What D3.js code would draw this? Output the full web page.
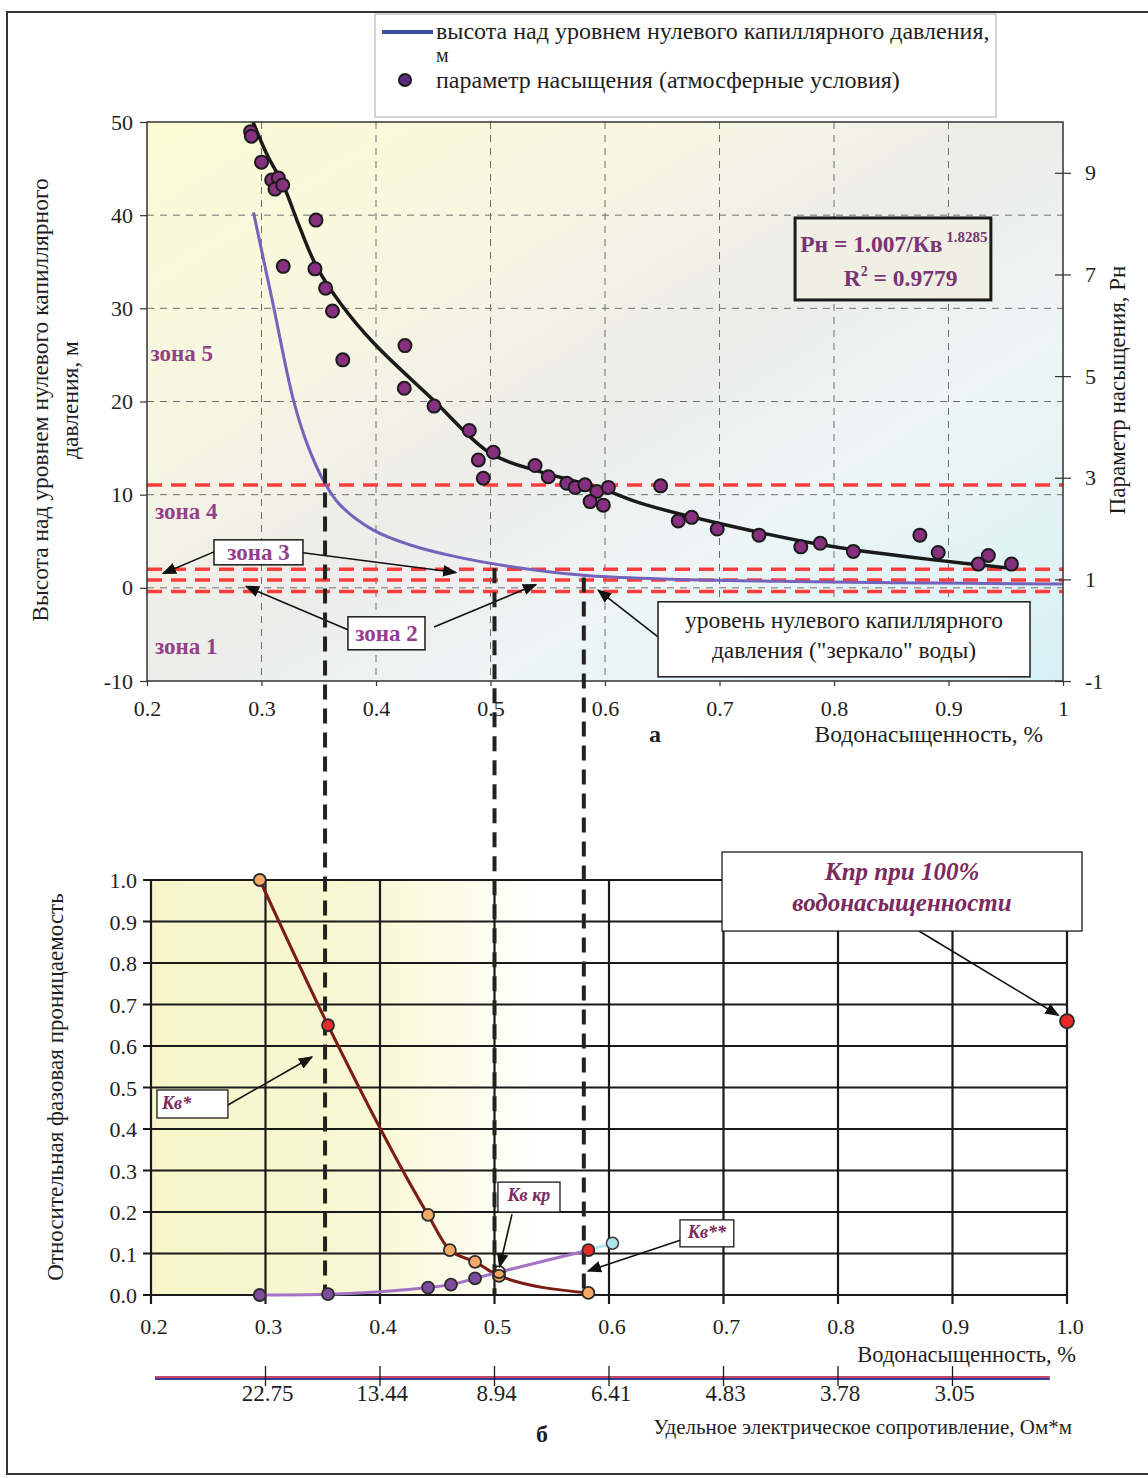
<!DOCTYPE html>
<html><head><meta charset="utf-8">
<script src="https://cdn.jsdelivr.net/npm/d3@7"></script>
<style>
body{margin:0;background:#fff}
svg{display:block}
text{font-family:"Liberation Serif","Times New Roman",serif;fill:#1e1e1e}
</style>
</head><body>
<svg id="c" width="1148" height="1478"></svg>
<script>
// ---------------- DATA ----------------
// top chart (a)
const topXTicks = [0.2,0.3,0.4,0.5,0.6,0.7,0.8,0.9,1.0];
const topXTickLabels = ["0.2","0.3","0.4","0.5","0.6","0.7","0.8","0.9","1"];
const heightTicks = [-10,0,10,20,30,40,50];
const heightTickLabels = ["-10","0","10","20","30","40","50"];
const pnTicks = [-1,1,3,5,7,9];
const pnTickLabels = ["-1","1","3","5","7","9"];
// height above zero capillary pressure level, m  [Sw, H]
const heightCurve = [[0.293,40.3],[0.31,30.5],[0.3278,20.2],[0.34,15.4],[0.3555,11.2],[0.3686,8.9],[0.3977,6.2],
  [0.43,4.6],[0.4675,3.4],[0.514,2.35],[0.581,1.35],[0.65,0.95],[0.75,0.7],[0.85,0.55],[1.0,0.4]];
// saturation parameter trend line  [Sw, Pn]
const pnTrend = [[0.2926,10.0],[0.305,9.35],[0.319,8.76],[0.333,7.95],[0.348,7.16],[0.37,6.4],[0.398,5.65],
  [0.45,4.53],[0.50,3.48],[0.543,3.12],[0.581,2.89],[0.60,2.76],[0.631,2.50],[0.70,2.10],[0.80,1.64],[0.90,1.35],[0.954,1.22]];
// saturation parameter (atmospheric conditions)  [Sw, Pn]
const pnPoints = [[0.2905,9.81],[0.2912,9.72],[0.300,9.21],[0.3089,8.86],[0.3147,8.90],[0.3118,8.68],[0.3185,8.76],
  [0.3476,8.07],[0.319,7.16],[0.3467,7.11],[0.356,6.73],[0.362,6.28],[0.371,5.32],[0.4253,5.60],[0.4247,4.76],
  [0.4507,4.41],[0.4815,3.93],[0.4894,3.35],[0.5025,3.50],[0.4937,2.99],[0.5389,3.24],[0.5505,3.02],[0.5666,2.89],
  [0.574,2.81],[0.5825,2.86],[0.5928,2.73],[0.587,2.53],[0.5985,2.46],[0.6029,2.81],[0.6486,2.84],[0.664,2.15],
  [0.6757,2.22],[0.698,1.99],[0.7345,1.87],[0.771,1.64],[0.788,1.71],[0.8169,1.55],[0.875,1.87],[0.891,1.53],
  [0.926,1.30],[0.9348,1.47],[0.955,1.30]];
// zone boundaries (height, m)
const zoneLevels = [11.05, 2.0, 0.85, -0.4];
// thick dashed guide lines [Sw, start height]
const guideLines = [[0.3555,12.8],[0.5035,2.1],[0.5815,1.1]];

// bottom chart (б)
const relXTicks = [0.2,0.3,0.4,0.5,0.6,0.7,0.8,0.9,1.0];
const relXTickLabels = ["0.2","0.3","0.4","0.5","0.6","0.7","0.8","0.9","1.0"];
const relYTicks = [0,0.1,0.2,0.3,0.4,0.5,0.6,0.7,0.8,0.9,1.0];
const relYTickLabels = ["0.0","0.1","0.2","0.3","0.4","0.5","0.6","0.7","0.8","0.9","1.0"];
const krDecreasing = [[0.295,1.0],[0.3546,0.65],[0.442,0.193],[0.461,0.108],[0.483,0.08],[0.504,0.046],[0.582,0.005]];
const krIncreasing = [[0.295,0.0],[0.3546,0.002],[0.442,0.018],[0.462,0.025],[0.483,0.04],[0.504,0.055],[0.582,0.108]];
const krExtra = [[0.582,0.108],[0.603,0.125]];
const krFull = [[1.0,0.66]];
const resistTickSw = [0.3,0.4,0.5,0.6,0.7,0.8,0.9];
const resistLabels = ["22.75","13.44","8.94","6.41","4.83","3.78","3.05"];

// ---------------- DRAW ----------------
const svg = d3.select("#c");
const defs = svg.append("defs");

// page frame
svg.append("rect").attr("x",7).attr("y",12).attr("width",1170).attr("height",1462)
  .attr("fill","none").attr("stroke","#333").attr("stroke-width",2);

// arrow marker
defs.append("marker").attr("id","arr").attr("viewBox","0 0 10 10").attr("refX",9).attr("refY",5)
  .attr("markerWidth",9).attr("markerHeight",9).attr("orient","auto-start-reverse")
  .append("path").attr("d","M0,1 L10,5 L0,9 z").attr("fill","#111");

// ===== TOP CHART =====
const x = d3.scaleLinear().domain([0.2,1]).range([147,1063]);
const yH = d3.scaleLinear().domain([-10,50]).range([681,122]);
const yP = d3.scaleLinear().domain([-1,10]).range([681,122]);

const bg = defs.append("linearGradient").attr("id","bgTop").attr("x1","0").attr("y1","0").attr("x2","1").attr("y2","1");
[["0%","#fbfbd4"],["28%","#f7f7e2"],["50%","#ececea"],["68%","#eef5f5"],["100%","#d6f1f4"]]
  .forEach(s=>bg.append("stop").attr("offset",s[0]).attr("stop-color",s[1]));
defs.append("clipPath").attr("id","clipTop").append("rect")
  .attr("x",x(0.2)).attr("y",yH(50)).attr("width",x(1)-x(0.2)).attr("height",yH(-10)-yH(50));

svg.append("rect").attr("x",x(0.2)).attr("y",yH(50)).attr("width",x(1)-x(0.2)).attr("height",yH(-10)-yH(50))
  .attr("fill","url(#bgTop)");

// grid
const gTop = svg.append("g");
gTop.selectAll(".vg").data(topXTicks.slice(1,-1)).join("line")
  .attr("x1",d=>x(d)).attr("x2",d=>x(d)).attr("y1",yH(50)).attr("y2",yH(-10))
  .attr("stroke","#6f6f6f").attr("stroke-width",1).attr("stroke-dasharray","7,6");
gTop.selectAll(".hg").data(heightTicks.slice(1,-1)).join("line")
  .attr("x1",x(0.2)).attr("x2",x(1)).attr("y1",d=>yH(d)).attr("y2",d=>yH(d))
  .attr("stroke","#6f6f6f").attr("stroke-width",1).attr("stroke-dasharray","7,6");

const plotTop = svg.append("g").attr("clip-path","url(#clipTop)");

// zone dashed lines
plotTop.selectAll(".zl").data(zoneLevels).join("line")
  .attr("x1",x(0.2)).attr("x2",x(1)).attr("y1",d=>yH(d)).attr("y2",d=>yH(d))
  .attr("stroke","#ff3d3d").attr("stroke-width",3.5).attr("stroke-dasharray","15,9");

// height curve
plotTop.append("path").datum(heightCurve)
  .attr("d",d3.line().x(d=>x(d[0])).y(d=>yH(d[1])).curve(d3.curveCatmullRom.alpha(0.5)))
  .attr("fill","none").attr("stroke","#7462bb").attr("stroke-width",3);

// trend curve
plotTop.append("path").datum(pnTrend)
  .attr("d",d3.line().x(d=>x(d[0])).y(d=>yP(d[1])).curve(d3.curveCatmullRom.alpha(0.5)))
  .attr("fill","none").attr("stroke","#1a1a1a").attr("stroke-width",3.5);

// points
plotTop.selectAll(".pt").data(pnPoints).join("circle")
  .attr("cx",d=>x(d[0])).attr("cy",d=>yP(d[1])).attr("r",6.5)
  .attr("fill","#86307f").attr("stroke","#1a1a1a").attr("stroke-width",2);

// plot border
svg.append("rect").attr("x",x(0.2)).attr("y",yH(50)).attr("width",x(1)-x(0.2)).attr("height",yH(-10)-yH(50))
  .attr("fill","none").attr("stroke","#333").attr("stroke-width",1.5);

// axes
const axL = svg.append("g").attr("transform",`translate(${x(0.2)},0)`)
  .call(d3.axisLeft(yH).tickValues(heightTicks).tickSize(7).tickFormat((d,i)=>heightTickLabels[i]));
const axR = svg.append("g").attr("transform",`translate(${x(1)},0)`)
  .call(d3.axisRight(yP).tickValues(pnTicks).tickSize(8).tickPadding(14).tickFormat((d,i)=>pnTickLabels[i]));
axR.selectAll(".tick line").attr("x1",-8);
const axB = svg.append("g").attr("transform",`translate(0,${yH(-10)})`)
  .call(d3.axisBottom(x).tickValues(topXTicks).tickSize(5).tickPadding(14).tickFormat((d,i)=>topXTickLabels[i]));
[axL,axR,axB].forEach(a=>{
  a.select(".domain").remove();
  a.selectAll(".tick line").attr("stroke","#333").attr("stroke-width",1.2);
  a.selectAll("text").style("font-size","22px").style("font-family","Liberation Serif").attr("fill","#1e1e1e");
});
axL.selectAll("text").attr("x",-14);

// axis titles
svg.append("text").attr("transform","translate(48,400) rotate(-90)").attr("text-anchor","middle")
  .style("font-size","23.5px").text("Высота над уровнем нулевого капиллярного");
svg.append("text").attr("transform","translate(78,400) rotate(-90)").attr("text-anchor","middle")
  .style("font-size","23.5px").text("давления, м");
svg.append("text").attr("transform","translate(1125,390) rotate(-90)").attr("text-anchor","middle")
  .style("font-size","23px").text("Параметр насыщения, Рн");
svg.append("text").attr("x",1043).attr("y",742).attr("text-anchor","end").style("font-size","23.5px")
  .text("Водонасыщенность, %");
svg.append("text").attr("x",x(0.6)+50).attr("y",742).attr("text-anchor","middle").style("font-size","24px")
  .style("font-weight","bold").text("а");

// zone labels
const zoneColor = "#93408b";
[["зона 5",0.203,24.4],["зона 4",0.207,7.4],["зона 1",0.207,-7.1]].forEach(z=>{
  svg.append("text").attr("x",x(z[1])).attr("y",yH(z[2])).style("font-size","23px").style("font-weight","bold")
    .style("fill",zoneColor).text(z[0]);
});
function box(x0,y0,x1,y1,sw,fill){
  svg.append("rect").attr("x",x0).attr("y",y0).attr("width",x1-x0).attr("height",y1-y0)
    .attr("fill",fill||"#fff").attr("stroke","#1a1a1a").attr("stroke-width",sw||1.5);
}
function arrow(x0,y0,x1,y1){
  svg.append("line").attr("x1",x0).attr("y1",y0).attr("x2",x1).attr("y2",y1)
    .attr("stroke","#111").attr("stroke-width",1.6).attr("marker-end","url(#arr)");
}
// зона 3
arrow(x(0.2585),yH(3.86),x(0.214),yH(1.55));
arrow(x(0.3362),yH(3.76),x(0.4699),yH(1.65));
box(x(0.2585),yH(5.15),x(0.3362),yH(2.47));
svg.append("text").attr("x",(x(0.2585)+x(0.3362))/2).attr("y",yH(2.95)).attr("text-anchor","middle")
  .style("font-size","23px").style("font-weight","bold").style("fill",zoneColor).text("зона 3");
// зона 2
arrow(x(0.3755),yH(-4.5),x(0.2865),yH(0.15));
arrow(x(0.4507),yH(-4.2),x(0.5397),yH(0.35));
box(x(0.3755),yH(-3.11),x(0.4428),yH(-6.65));
svg.append("text").attr("x",(x(0.3755)+x(0.4428))/2).attr("y",yH(-5.7)).attr("text-anchor","middle")
  .style("font-size","23px").style("font-weight","bold").style("fill",zoneColor).text("зона 2");
// zero level box
arrow(x(0.6463),yH(-5.26),x(0.594),yH(-0.25));
box(x(0.6463),yH(-1.5),x(0.9712),yH(-9.55));
svg.append("text").attr("x",(x(0.6463)+x(0.9712))/2).attr("y",yH(-4.3)).attr("text-anchor","middle")
  .style("font-size","23.5px").text("уровень нулевого капиллярного");
svg.append("text").attr("x",(x(0.6463)+x(0.9712))/2).attr("y",yH(-7.5)).attr("text-anchor","middle")
  .style("font-size","23.5px").text("давления (\"зеркало\" воды)");

// equation box
box(x(0.766),yH(39.7),x(0.937),yH(30.9),3,"#efefe4");
const eqColor = "#7a3476";
const eq1 = svg.append("text").attr("x",x(0.7705)).attr("y",yH(36.0)).style("font-size","23.5px").style("font-weight","bold").style("fill",eqColor);
eq1.append("tspan").text("Pн = 1.007/Кв");
eq1.append("tspan").attr("dy",-10).style("font-size","15px").text(" 1.8285");
const eq2 = svg.append("text").attr("x",x(0.8085)).attr("y",yH(32.4)).style("font-size","23.5px").style("font-weight","bold").style("fill",eqColor);
eq2.append("tspan").text("R");
eq2.append("tspan").attr("dy",-10).style("font-size","14px").text("2");
eq2.append("tspan").attr("dy",10).text(" = 0.9779");

// legend
svg.append("rect").attr("x",375).attr("y",14).attr("width",621).attr("height",103)
  .attr("fill","#fff").attr("stroke","#aaa").attr("stroke-width",1);
svg.append("line").attr("x1",382).attr("x2",433).attr("y1",32).attr("y2",32).attr("stroke","#3d4fa6").attr("stroke-width",4);
svg.append("text").attr("x",436).attr("y",39).style("font-size","24px").text("высота над уровнем нулевого капиллярного давления,");
svg.append("text").attr("x",436).attr("y",62).style("font-size","20px").text("м");
svg.append("circle").attr("cx",405).attr("cy",80).attr("r",6).attr("fill","#5a2a80").attr("stroke","#1a1a1a").attr("stroke-width",2);
svg.append("text").attr("x",436).attr("y",88).style("font-size","24px").text("параметр насыщения (атмосферные условия)");

// ===== BOTTOM CHART =====
const xB = d3.scaleLinear().domain([0.2,1]).range([151,1067]);
const yB = d3.scaleLinear().domain([0,1]).range([1295,880]);

const bgB = defs.append("linearGradient").attr("id","bgBot").attr("x1","0").attr("y1","0").attr("x2","1").attr("y2","0");
[["0%","#f7f5c9"],["24%","#f9f7d5"],["36%","#fdfcef"],["42%","#ffffff"]]
  .forEach(s=>bgB.append("stop").attr("offset",s[0]).attr("stop-color",s[1]));
svg.append("rect").attr("x",xB(0.2)).attr("y",yB(1)).attr("width",xB(1)-xB(0.2)).attr("height",yB(0)-yB(1))
  .attr("fill","url(#bgBot)");

// grid
svg.selectAll(".bhg").data(relYTicks).join("line")
  .attr("x1",xB(0.2)-8).attr("x2",xB(1)).attr("y1",d=>yB(d)).attr("y2",d=>yB(d))
  .attr("stroke","#1a1a1a").attr("stroke-width",2.2);
svg.selectAll(".bvg").data(relXTicks).join("line")
  .attr("x1",d=>xB(d)).attr("x2",d=>xB(d)).attr("y1",yB(1)).attr("y2",yB(0)+9)
  .attr("stroke","#1a1a1a").attr("stroke-width",2.2);

// thick dashed guide lines (cross both charts)
svg.selectAll(".guide").data(guideLines).join("line")
  .attr("x1",d=>x(d[0])).attr("x2",d=>x(d[0])).attr("y1",d=>yH(d[1])).attr("y2",yB(0))
  .attr("stroke","#222").attr("stroke-width",4).attr("stroke-dasharray","15,9");

// bottom series
svg.append("path").datum(krDecreasing)
  .attr("d",d3.line().x(d=>xB(d[0])).y(d=>yB(d[1])).curve(d3.curveMonotoneX))
  .attr("fill","none").attr("stroke","#7a1c14").attr("stroke-width",3);
svg.append("path").datum(krIncreasing)
  .attr("d",d3.line().x(d=>xB(d[0])).y(d=>yB(d[1])).curve(d3.curveMonotoneX))
  .attr("fill","none").attr("stroke","#a473c6").attr("stroke-width",3);
svg.append("path").datum(krExtra)
  .attr("d",d3.line().x(d=>xB(d[0])).y(d=>yB(d[1])))
  .attr("fill","none").attr("stroke","#b6e6ee").attr("stroke-width",3);

svg.selectAll(".kd").data(krDecreasing).join("circle")
  .attr("cx",d=>xB(d[0])).attr("cy",d=>yB(d[1])).attr("r",6)
  .attr("fill",(d,i)=>i===1?"#e42a2a":"#f4a866").attr("stroke","#2a2a2a").attr("stroke-width",1.8);
svg.selectAll(".ki").data(krIncreasing).join("circle")
  .attr("cx",d=>xB(d[0])).attr("cy",d=>yB(d[1])).attr("r",6)
  .attr("fill",(d,i)=>i===krIncreasing.length-1?"#e42a2a":(i===5?"none":"#7c4d9c"))
  .attr("stroke","#2a2a2a").attr("stroke-width",1.8);
svg.selectAll(".ke").data(krExtra.slice(1)).join("circle")
  .attr("cx",d=>xB(d[0])).attr("cy",d=>yB(d[1])).attr("r",6)
  .attr("fill","#aee4ee").attr("stroke","#3a3a3a").attr("stroke-width",1.5);
svg.selectAll(".kf").data(krFull).join("circle")
  .attr("cx",d=>xB(d[0])).attr("cy",d=>yB(d[1])).attr("r",7)
  .attr("fill","#e8272b").attr("stroke","#2a2a2a").attr("stroke-width",1.8);

// bottom axes labels
svg.selectAll(".byl").data(relYTicks).join("text")
  .attr("x",xB(0.2)-14).attr("y",d=>yB(d)+8).attr("text-anchor","end").style("font-size","22px")
  .text((d,i)=>relYTickLabels[i]);
svg.selectAll(".bxl").data(relXTicks).join("text")
  .attr("x",d=>xB(d)+3).attr("y",1334).attr("text-anchor","middle").style("font-size","22px")
  .text((d,i)=>relXTickLabels[i]);
svg.append("text").attr("x",1076).attr("y",1362).attr("text-anchor","end").style("font-size","22.5px")
  .text("Водонасыщенность, %");
svg.append("text").attr("transform","translate(63,1087) rotate(-90)").attr("text-anchor","middle")
  .style("font-size","23px").text("Относительная фазовая проницаемость");

// resistivity axis
svg.append("line").attr("x1",xB(0.2035)).attr("x2",xB(0.985)).attr("y1",1377).attr("y2",1377)
  .attr("stroke","#c44a6a").attr("stroke-width",2);
svg.append("line").attr("x1",xB(0.2035)).attr("x2",xB(0.985)).attr("y1",1379).attr("y2",1379)
  .attr("stroke","#3b3c96").attr("stroke-width",2);
svg.selectAll(".rt").data(resistTickSw).join("line")
  .attr("x1",d=>xB(d)).attr("x2",d=>xB(d)).attr("y1",1366).attr("y2",1386)
  .attr("stroke","#1a1a1a").attr("stroke-width",1.3);
svg.selectAll(".rl").data(resistTickSw).join("text")
  .attr("x",d=>xB(d)+2).attr("y",1401).attr("text-anchor","middle").style("font-size","23px")
  .text((d,i)=>resistLabels[i]);
svg.append("text").attr("x",1072).attr("y",1434).attr("text-anchor","end").style("font-size","21px")
  .text("Удельное электрическое сопротивление, Ом*м");
svg.append("text").attr("x",542).attr("y",1442).attr("text-anchor","middle").style("font-size","24px")
  .style("font-weight","bold").text("б");

// bottom annotations
const annColor = "#7a2a5e";
function annText(xp,yp,t,size,anchor){
  return svg.append("text").attr("x",xp).attr("y",yp).attr("text-anchor",anchor||"start")
    .style("font-size",(size||17)+"px").style("font-weight","bold").style("font-style","italic")
    .style("fill",annColor).text(t);
}
arrow(xB(0.2672),yB(0.458),xB(0.3406),yB(0.5735));
box(xB(0.2052),yB(0.494),xB(0.2672),yB(0.4265),1.3);
annText(xB(0.2095),yB(0.449),"Кв*",18);

arrow(xB(0.5153),yB(0.195),xB(0.5045),yB(0.068));
box(xB(0.503),yB(0.272),xB(0.5572),yB(0.2),1.3);
annText(xB(0.530),yB(0.227),"Кв кр",18,"middle");

arrow(xB(0.6838),yB(0.152),xB(0.5817),yB(0.058));
box(xB(0.662),yB(0.181),xB(0.709),yB(0.116),1.3);
annText(xB(0.6855),yB(0.138),"Кв**",18,"middle");

arrow(xB(0.8707),yB(0.877),xB(0.9925),yB(0.674));
box(xB(0.6987),yB(1.0675),xB(1.0131),yB(0.877),1.3);
annText((xB(0.6987)+xB(1.0131))/2,yB(1.0),"Кпр при 100%",25,"middle");
annText((xB(0.6987)+xB(1.0131))/2,yB(0.925),"водонасыщенности",25,"middle");
</script>
</body></html>
